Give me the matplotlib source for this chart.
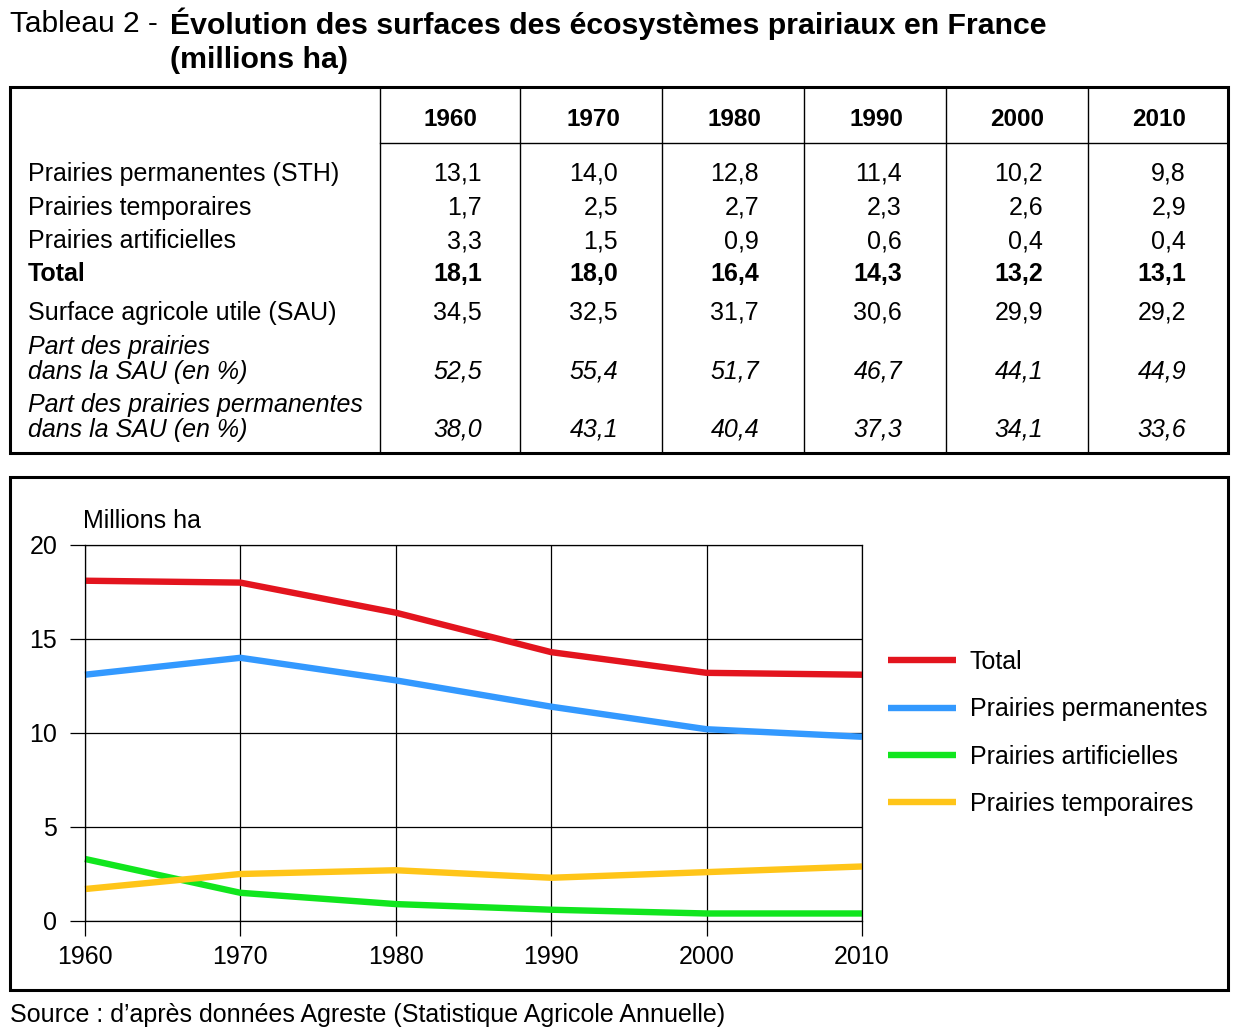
import matplotlib.pyplot as plt
from matplotlib.lines import Line2D
from matplotlib.patches import Rectangle

W, H = 1240, 1031

years = [1960, 1970, 1980, 1990, 2000, 2010]
row_labels = ["Prairies permanentes (STH)", "Prairies temporaires", "Prairies artificielles",
              "Total", "Surface agricole utile (SAU)",
              "Part des prairies\ndans la SAU (en %)",
              "Part des prairies permanentes\ndans la SAU (en %)"]
perm = [13.1, 14.0, 12.8, 11.4, 10.2, 9.8]
temp = [1.7, 2.5, 2.7, 2.3, 2.6, 2.9]
artif = [3.3, 1.5, 0.9, 0.6, 0.4, 0.4]
total = [18.1, 18.0, 16.4, 14.3, 13.2, 13.1]
sau = [34.5, 32.5, 31.7, 30.6, 29.9, 29.2]
part_prairies = [52.5, 55.4, 51.7, 46.7, 44.1, 44.9]
part_perm = [38.0, 43.1, 40.4, 37.3, 34.1, 33.6]

plt.rcParams['font.family'] = ['Liberation Sans', 'DejaVu Sans']

fig = plt.figure(figsize=(W / 100, H / 100), dpi=100)

FS = 18

def fx(x):
    return x / W

def fy(y):
    return 1 - y / H

def hline(x0, x1, y, lw=1.0):
    fig.add_artist(Line2D([fx(x0), fx(x1)], [fy(y), fy(y)], color='black', lw=lw))

def vline(x, y0, y1, lw=1.0):
    fig.add_artist(Line2D([fx(x), fx(x)], [fy(y0), fy(y1)], color='black', lw=lw))

def fmt(v):
    return ("%.1f" % v).replace('.', ',')

# title
fig.text(fx(10), fy(24), "Tableau 2 - ", fontsize=21.5, va='center', ha='left')
fig.text(fx(170), fy(24), "Évolution des surfaces des écosystèmes prairiaux en France",
         fontsize=21.8, va='center', ha='left', weight='bold')
fig.text(fx(170), fy(60), "(millions ha)", fontsize=21.8, va='center', ha='left', weight='bold')

# table frame
fig.add_artist(Rectangle((fx(10), fy(453)), fx(1228) - fx(10), fy(87) - fy(453),
                         fill=False, lw=2.2, edgecolor='black'))
col_lines = [380, 520, 662, 804, 946, 1088]
for x in col_lines:
    vline(x, 87, 453)
hline(380, 1228, 143)

col_center = [450, 593, 734, 876, 1017, 1159]
col_right = [482, 618, 759, 902, 1043, 1186]
for i, yr in enumerate(years):
    fig.text(fx(col_center[i]), fy(119), str(yr), fontsize=17.5, weight='bold',
             ha='center', va='center')

rows = [perm, temp, artif, total, sau, part_prairies, part_perm]
row_y = [174, 208, 241, 274, 313, 372, 430]
label_y = [174, 208, 241, 274, 313, 347, 405]
for r, (lab, vals) in enumerate(zip(row_labels, rows)):
    style = 'normal'
    weight = 'normal'
    if lab == "Total":
        weight = 'bold'
    if r >= 5:
        style = 'italic'
    for k, part in enumerate(lab.split("\n")):
        fig.text(fx(28), fy(label_y[r] + 25 * k), part, fontsize=FS, ha='left',
                 va='center', weight=weight, style=style)
    for i, v in enumerate(vals):
        fig.text(fx(col_right[i]), fy(row_y[r]), fmt(v), fontsize=FS, ha='right',
                 va='center', weight=weight, style=style)

# chart frame
fig.add_artist(Rectangle((fx(10), fy(990)), fx(1228) - fx(10), fy(477) - fy(990),
                         fill=False, lw=2.2, edgecolor='black'))

ax = fig.add_axes([fx(85), fy(921), fx(862) - fx(85), fy(545) - fy(921)])
series = [("Total", total, '#e3141e'),
          ("Prairies permanentes", perm, '#3399ff'),
          ("Prairies artificielles", artif, '#11e61e'),
          ("Prairies temporaires", temp, '#ffc519')]
for name, vals, c in series:
    ax.plot(years, vals, color=c, lw=4.6, label=name, solid_capstyle='butt', clip_on=False)

ax.set_xlim(1960, 2010)
ax.set_ylim(0, 20)
ax.set_xticks(years)
ax.set_yticks([0, 5, 10, 15, 20])
ax.grid(True, color='black', lw=0.9)
ax.set_axisbelow(True)
for s in ax.spines.values():
    s.set_linewidth(0.9)
ax.tick_params(direction='out', length=11, width=0.9, labelsize=FS, pad=9)
ax.tick_params(axis='x', pad=6)
ax.text(fx(83), fy(521), "Millions ha", transform=fig.transFigure, fontsize=FS,
        ha='left', va='center')

ax.legend(loc='upper left', bbox_to_anchor=(fx(888), fy(650)),
          bbox_transform=fig.transFigure, frameon=False, fontsize=FS,
          handlelength=2.7, handletextpad=0.56, labelspacing=0.93,
          borderpad=0, borderaxespad=0)

fig.text(fx(10), fy(1015), "Source : d\u2019après données Agreste (Statistique Agricole Annuelle)",
         fontsize=FS, ha='left', va='center')

fig.savefig("out.png", dpi=100)
